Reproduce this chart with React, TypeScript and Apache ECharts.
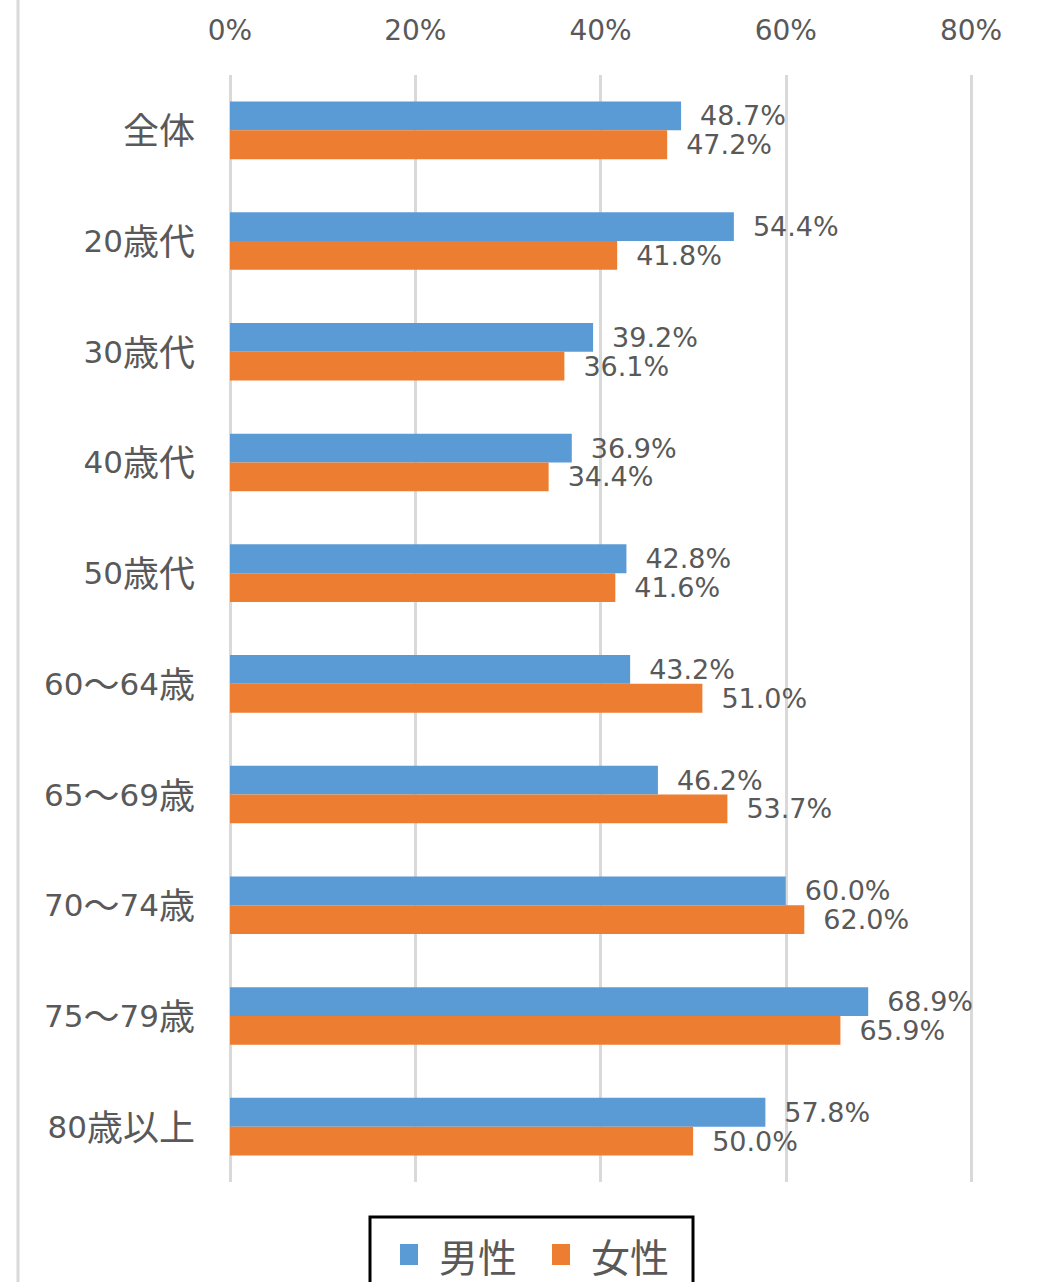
import React, { useEffect, useRef } from "react";
import * as echarts from "echarts";

const categories = ["全体", "20歳代", "30歳代", "40歳代", "50歳代", "60～64歳", "65～69歳", "70～74歳", "75～79歳", "80歳以上"];
const maleValues = [48.7, 54.4, 39.2, 36.9, 42.8, 43.2, 46.2, 60.0, 68.9, 57.8];
const femaleValues = [47.2, 41.8, 36.1, 34.4, 41.6, 51.0, 53.7, 62.0, 65.9, 50.0];
const tickValues = [0, 20, 40, 60, 80];
const seriesNames = ["男性", "女性"];

const CJK = "'Noto Sans CJK JP', 'Noto Sans', sans-serif";
const NUM = "'DejaVu Sans', 'Noto Sans CJK JP', sans-serif";
const TEXT = "#595959";

export default function App() {
  const ref = useRef<HTMLDivElement>(null);
  useEffect(() => {
    if (!ref.current) return;
    const chart = echarts.init(ref.current, undefined, { renderer: "svg" });
    const label = {
      show: true,
      position: "right" as const,
      distance: 19,
      color: TEXT,
      fontSize: 27,
      lineHeight: 24,
      fontFamily: NUM,
      formatter: (p: any) => p.value.toFixed(1) + "%",
    };
    chart.setOption({
      animation: false,
      backgroundColor: "#fff",
      textStyle: { fontFamily: CJK },
      grid: { left: 230, right: 69, top: 75, bottom: 100, containLabel: false },
      xAxis: {
        type: "value",
        position: "top",
        min: tickValues[0],
        max: tickValues[tickValues.length - 1],
        interval: 20,
        axisLine: { show: false },
        axisTick: { show: false },
        axisLabel: { color: TEXT, fontSize: 28, fontFamily: NUM, margin: 31, formatter: "{value}%" },
        splitLine: { show: true, lineStyle: { color: "#d9d9d9", width: 3 } },
      },
      yAxis: {
        type: "category",
        inverse: true,
        data: categories,
        axisLine: { show: false },
        axisTick: { show: false },
        axisLabel: {
          color: TEXT,
          margin: 35,
          formatter: (v: string) =>
            (v.match(/\d+|\D+/g) || [])
              .map((s) => (/\d/.test(s) ? `{d|${s}}` : `{c|${s}}`))
              .join(""),
          rich: {
            d: { fontFamily: NUM, fontSize: 31, color: TEXT, lineHeight: 36 },
            c: { fontFamily: CJK, fontSize: 36, color: TEXT, lineHeight: 36, padding: [0, 0, 4, 0] },
          },
        },
      },
      legend: {
        data: seriesNames,
        left: 370,
        top: 1217,
        orient: "horizontal",
        borderColor: "#000",
        borderWidth: 3,
        padding: [18, 24, 40, 30],
        itemWidth: 18,
        itemHeight: 21,
        itemGap: 35,
        icon: "rect",
        textStyle: { color: TEXT, fontSize: 39, fontFamily: CJK, padding: [0, 0, 0, 16] },
      },
      graphic: [
        {
          type: "line",
          shape: { x1: 18, y1: 0, x2: 18, y2: 1282 },
          style: { stroke: "#d9d9d9", lineWidth: 3 },
        },
      ],
      series: [
        {
          name: seriesNames[0],
          type: "bar",
          data: maleValues,
          itemStyle: { color: "#5B9BD5" },
          barGap: "0%",
          barCategoryGap: "48%",
          label,
        },
        {
          name: seriesNames[1],
          type: "bar",
          data: femaleValues,
          itemStyle: { color: "#ED7D31" },
          barGap: "0%",
          barCategoryGap: "48%",
          label,
        },
      ],
    });
    return () => chart.dispose();
  }, []);
  return <div ref={ref} style={{ position: "fixed", left: 0, top: 0, width: 1040, height: 1282 }} />;
}
